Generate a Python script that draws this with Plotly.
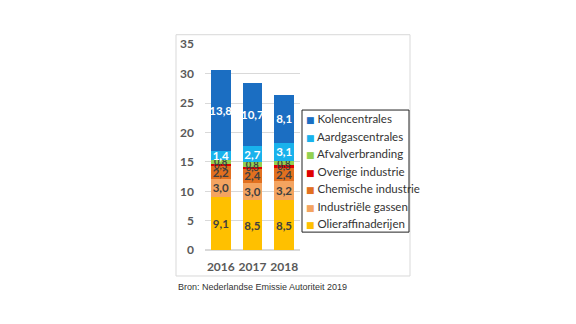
import plotly.graph_objects as go

years = ["2016", "2017", "2018"]
series_names = ["Olieraffinaderijen", "Industriële gassen", "Chemische industrie",
                "Overige industrie", "Afvalverbranding", "Aardgascentrales", "Kolencentrales"]
olie = [9.1, 8.5, 8.5]
gassen = [3.0, 3.0, 3.2]
chemisch = [2.2, 2.4, 2.4]
overige = [0.3, 0.3, 0.3]
afval = [0.8, 0.8, 0.8]
aardgas = [1.4, 2.7, 3.1]
kolen = [13.8, 10.7, 8.1]
values = [olie, gassen, chemisch, overige, afval, aardgas, kolen]
colors = ["#FFC000", "#F4A460", "#E2701F", "#E00000", "#92D050", "#19B2EC", "#1B6EC2"]
text_colors = ["#3F3F3F", "#3F3F3F", "#3F3F3F", "#3F3F3F", "#3F3F3F", "white", "white"]
text_sizes = [11.5, 11.5, 11.5, 9.5, 9.5, 11.5, 11.5]

W, H = 576, 324
def px(x): return x / W
def py(y): return (H - y) / H

FONT = "Lato"

fig = go.Figure()
for name, vals, c, tc, ts in zip(series_names, values, colors, text_colors, text_sizes):
    fig.add_trace(go.Bar(
        x=years, y=vals, name=name, marker=dict(color=c, line=dict(width=0)),
        text=[f"{v:.1f}".replace(".", ",") for v in vals],
        textposition="inside", insidetextanchor="middle", textangle=0,
        constraintext="none", cliponaxis=False,
        textfont=dict(family=FONT, size=ts, color=tc, weight="bold"),
        hoverinfo="skip", showlegend=False,
    ))

# legend box (drawn as layout decoration) with entries as text
legend_left, legend_top, legend_right, legend_bottom = 302, 107, 409, 235
item_top, item_pitch = 116, 18.4
shapes = [
    dict(type="rect", xref="paper", yref="paper",
         x0=px(176), x1=px(410), y0=py(281), y1=py(28),
         line=dict(color="#D9D9D9", width=1), layer="below"),
    dict(type="rect", xref="paper", yref="paper",
         x0=px(legend_left), x1=px(legend_right), y0=py(legend_bottom), y1=py(legend_top),
         line=dict(color="#222222", width=1), fillcolor="white", layer="above"),
]
annotations = []
for i, (name, c) in enumerate(zip(series_names[::-1], colors[::-1])):
    annotations.append(dict(
        text=f"<span style='color:{c};font-family:DejaVu Sans;font-size:9px'>■</span> {name}",
        xref="paper", yref="paper", x=px(legend_left + 2), y=py(item_top + i * item_pitch),
        xanchor="left", yanchor="middle", showarrow=False,
        font=dict(family=FONT, size=11.5, color="#333333")))
annotations.append(dict(text="Bron: Nederlandse Emissie Autoriteit 2019", xref="paper", yref="paper",
                        x=px(176), y=py(293), xanchor="left", yanchor="middle", showarrow=False,
                        font=dict(family="Liberation Sans", size=9, color="#333333")))

fig.update_layout(
    width=W, height=H, barmode="stack", bargap=0.37,
    margin=dict(l=0, r=0, t=0, b=0),
    paper_bgcolor="white", plot_bgcolor="white",
    font=dict(family=FONT, color="#595959"),
    showlegend=False,
    xaxis=dict(domain=[px(205), px(300)], showgrid=False, showline=False, ticks="",
               ticklabelstandoff=8,
               tickfont=dict(size=12, color="#595959", weight="bold")),
    yaxis=dict(domain=[py(254), py(38)], range=[0, 35], dtick=5, showgrid=True,
               gridcolor="#D9D9D9", gridwidth=1, zeroline=True, zerolinecolor="#D9D9D9",
               showline=False, ticks="", ticklabelstandoff=10,
               tickfont=dict(size=12, color="#595959", weight="bold")),
    shapes=shapes,
    annotations=annotations,
)

fig.write_html("out.html")
